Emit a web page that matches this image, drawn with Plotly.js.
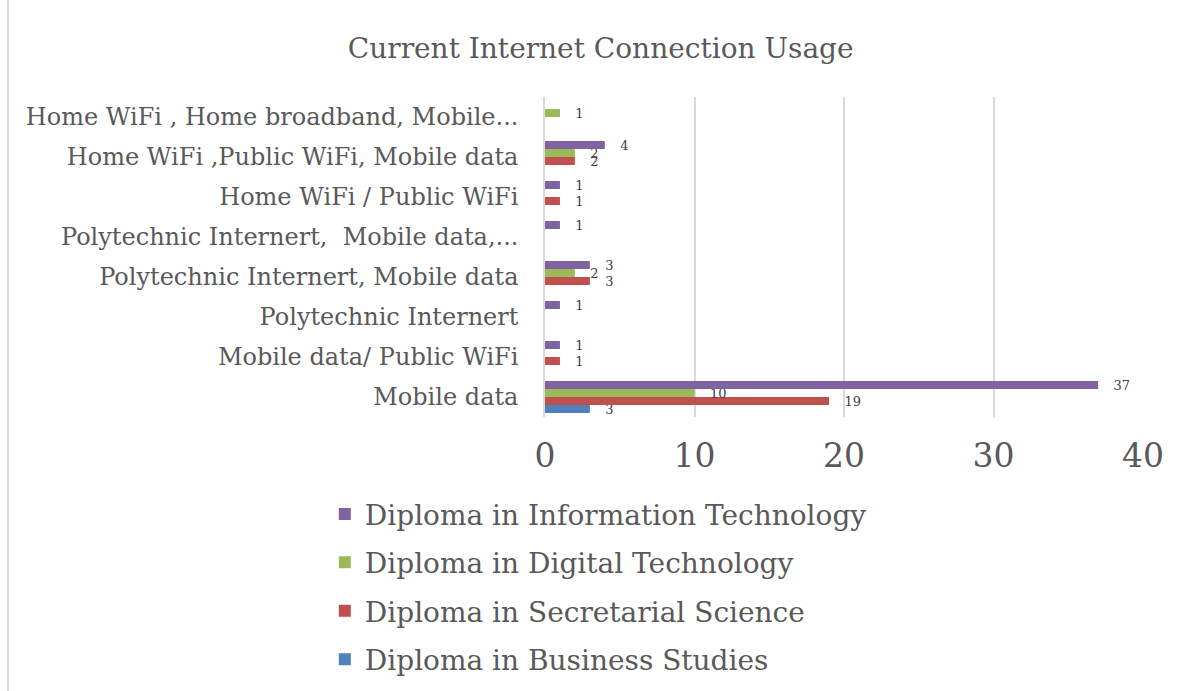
<!DOCTYPE html>
<html><head><meta charset="utf-8">
<script src="https://cdn.plot.ly/plotly-3.0.1.min.js"></script>
<style>
html,body{margin:0;padding:0;background:#fff;}
#chart{position:absolute;left:7px;top:0;width:1174px;height:691px;border-left:2px solid #d9d9d9;border-right:2px solid #d9d9d9;box-sizing:border-box;}
</style>
</head><body>
<div id="chart"></div>
<script>
const categories = [
  "Mobile data",
  "Mobile data/ Public WiFi",
  "Polytechnic Internert",
  "Polytechnic Internert, Mobile data",
  "Polytechnic Internert,  Mobile data,...",
  "Home WiFi / Public WiFi",
  "Home WiFi ,Public WiFi, Mobile data",
  "Home WiFi , Home broadband, Mobile..."
];
const businessStudies     = [3, null, null, null, null, null, null, null];
const secretarialScience  = [19, 1, null, 3, null, 1, 2, null];
const digitalTechnology   = [10, null, null, 2, null, null, 2, 1];
const informationTech     = [37, 1, 1, 3, 1, 1, 4, null];

const seriesNames = ["Diploma in Business Studies","Diploma in Secretarial Science","Diploma in Digital Technology","Diploma in Information Technology"];
const seriesData = [businessStudies, secretarialScience, digitalTechnology, informationTech];
const colors = ["#4F81BD","#C0504D","#9BBB59","#8064A2"];

const font = "DejaVu Serif, serif";
const traces = seriesData.map((d,i)=>({
  type:'bar', orientation:'h', name:seriesNames[i], legendgroup:'g'+i, legendrank:seriesData.length-i,
  y:categories, x:d,
  marker:{color:colors[i]},
  text:d.map(v=>v==null?'':'\u00a0\u00a0\u00a0'+String(v)), textposition:'outside',
  constraintext:'none',
  textfont:{family:font,size:13,color:'#404040'},
  cliponaxis:false
}));

const layout = {
  width:1174, height:691,
  margin:{l:536,r:40,t:97,b:274,autoexpand:false},
  paper_bgcolor:'#fff', plot_bgcolor:'#fff',
  title:{text:'Current Internet Connection Usage', font:{family:font,size:28,color:'#595959'}, x:0.504, xanchor:'center', xref:'container', y:0.93, yanchor:'middle'},
  barmode:'group', bargap:0.2, bargroupgap:0,
  xaxis:{range:[0,40], dtick:10, showgrid:true, gridcolor:'#d9d9d9', gridwidth:1.5, zeroline:false, automargin:false,
    tickfont:{family:font,size:33,color:'#595959'}, ticks:'', showline:false, ticklabelstandoff:16},
  yaxis:{type:'category', automargin:false, tickfont:{family:font,size:24,color:'#595959'}, ticks:'', showline:true, linecolor:'#d9d9d9', linewidth:1.5, showgrid:false, ticklabelstandoff:20},
  showlegend:true,
  legend:{traceorder:'grouped', orientation:'v', xref:'container', yref:'container', x:0.269, xanchor:'left', y:0.292, yanchor:'top',
    font:{family:font,size:28,color:'#595959'}, itemwidth:30, tracegroupgap:9},
  font:{family:font}
};
Plotly.newPlot('chart', traces, layout, {displayModeBar:false});
</script>
</body></html>
